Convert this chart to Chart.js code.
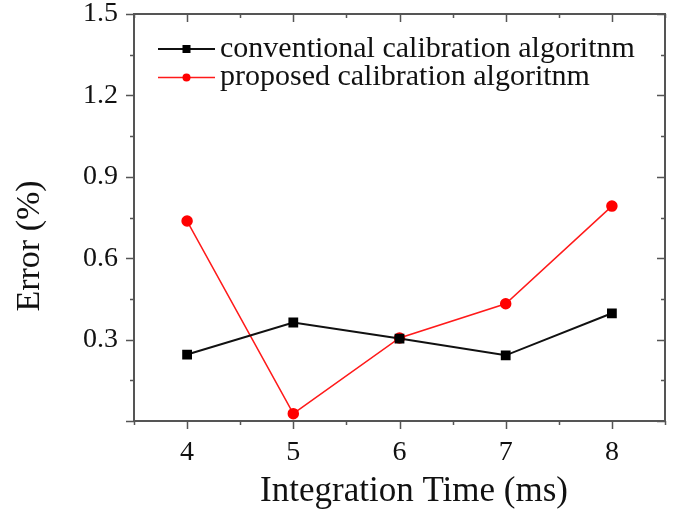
<!DOCTYPE html>
<html>
<head>
<meta charset="utf-8">
<script src="https://cdn.jsdelivr.net/npm/chart.js@4/dist/chart.umd.min.js"></script>
<style>
  html, body { margin: 0; padding: 0; background: #fff; }
  #wrap { width: 676px; height: 517px; }
</style>
</head>
<body>
<div id="wrap"><canvas id="chart"></canvas></div>
<script>
// ─── Data ─────────────────────────────────────────────────────────────────────
const integrationTimes = [4, 5, 6, 7, 8];
const conventional = [0.245, 0.363, 0.304, 0.242, 0.397];
const proposed = [0.737, 0.027, 0.306, 0.432, 0.792];
const yTickLabels = [0.3, 0.6, 0.9, 1.2, 1.5];
const xTickLabels = [4, 5, 6, 7, 8];

const SERIF = '"Liberation Serif", "DejaVu Serif", serif';
const AXIS_COLOR = '#555';

// ─── Frame, ticks, titles and legend ──────────────────────────────────────────
const framePlugin = {
  id: 'frame',
  afterDraw(chart) {
    const { ctx, chartArea: a, scales: { x, y } } = chart;
    ctx.save();
    ctx.strokeStyle = AXIS_COLOR;
    ctx.lineWidth = 2;
    ctx.strokeRect(a.left, a.top, a.right - a.left, a.bottom - a.top);

    // x ticks: major every 1, minor every 0.5
    ctx.lineWidth = 1.5;
    for (let v = x.min; v <= x.max + 1e-9; v += 0.5) {
      const px = Math.round(x.getPixelForValue(v)) + 0.5;
      const major = Math.abs(v - Math.round(v)) < 1e-9;
      const len = major ? 8 : 4;
      ctx.beginPath();
      ctx.moveTo(px, a.bottom); ctx.lineTo(px, a.bottom + len);
      ctx.moveTo(px, a.top); ctx.lineTo(px, a.top + len);
      ctx.stroke();
    }
    // y ticks: major every 0.3, minor every 0.15
    for (let i = 0; i <= 10; i++) {
      const v = i * 0.15;
      const py = Math.round(y.getPixelForValue(v)) + 0.5;
      const len = i % 2 === 0 ? 8 : 4;
      ctx.beginPath();
      ctx.moveTo(a.left, py); ctx.lineTo(a.left - len, py);
      ctx.moveTo(a.right, py); ctx.lineTo(a.right - len, py);
      ctx.stroke();
    }

    // tick labels
    ctx.fillStyle = '#111';
    ctx.font = `28px ${SERIF}`;
    ctx.textAlign = 'right';
    ctx.textBaseline = 'middle';
    yTickLabels.forEach(v => ctx.fillText(v.toFixed(1), a.left - 16, y.getPixelForValue(v)));
    ctx.textAlign = 'center';
    ctx.textBaseline = 'top';
    xTickLabels.forEach(v => ctx.fillText(String(v), x.getPixelForValue(v), a.bottom + 18));

    // axis titles
    ctx.font = `35px ${SERIF}`;
    ctx.textBaseline = 'middle';
    ctx.fillText('Integration Time (ms)', 414, 492);
    ctx.font = `34px ${SERIF}`;
    ctx.save();
    ctx.translate(30, 246);
    ctx.rotate(-Math.PI / 2);
    ctx.fillText('Error (%)', 0, 0);
    ctx.restore();

    // legend: line + marker + label
    ctx.font = `30px ${SERIF}`;
    ctx.textAlign = 'left';
    chart.data.datasets.forEach((ds, i) => {
      const ly = 49 + i * 28.5;
      const lx0 = 158, lx1 = 215, mx = (lx0 + lx1) / 2;
      ctx.strokeStyle = ds.borderColor;
      ctx.lineWidth = ds.borderWidth;
      ctx.beginPath(); ctx.moveTo(lx0, ly); ctx.lineTo(lx1, ly); ctx.stroke();
      ctx.fillStyle = ds.pointBackgroundColor;
      if (ds.pointStyle === 'rect') {
        ctx.fillRect(mx - 4, ly - 4, 8, 8);
      } else {
        ctx.beginPath(); ctx.arc(mx, ly, 4, 0, Math.PI * 2); ctx.fill();
      }
      ctx.fillStyle = '#111';
      ctx.fillText(ds.label, 220, ly);
    });
    ctx.restore();
  }
};

// ─── Chart ────────────────────────────────────────────────────────────────────
const ctx = document.getElementById('chart').getContext('2d');
new Chart(ctx, {
  type: 'line',
  data: {
    datasets: [
      {
        label: 'conventional calibration algoritnm',
        data: integrationTimes.map((t, i) => ({ x: t, y: conventional[i] })),
        borderColor: '#111',
        backgroundColor: '#000',
        pointBackgroundColor: '#000',
        pointBorderColor: '#000',
        borderWidth: 2,
        pointStyle: 'rect',
        pointRadius: 5.5,
        tension: 0,
      },
      {
        label: 'proposed calibration algoritnm',
        data: integrationTimes.map((t, i) => ({ x: t, y: proposed[i] })),
        borderColor: '#ff1a1a',
        backgroundColor: '#ff0000',
        pointBackgroundColor: '#ff0000',
        pointBorderColor: '#ff0000',
        borderWidth: 1.5,
        pointStyle: 'circle',
        pointRadius: 5,
        tension: 0,
      },
    ],
  },
  options: {
    responsive: true, maintainAspectRatio: false, animation: false,
    layout: { padding: { top: 14, right: 11, left: 0, bottom: 0 } },
    plugins: { legend: { display: false }, tooltip: { enabled: false } },
    scales: {
      x: {
        type: 'linear', min: 3.5, max: 8.5,
        grid: { display: false }, border: { display: false },
        ticks: { display: false },
        afterFit(scale) { scale.height = 96; },
      },
      y: {
        min: 0, max: 1.5,
        grid: { display: false }, border: { display: false },
        ticks: { display: false },
        afterFit(scale) { scale.width = 134; },
      },
    },
  },
  plugins: [framePlugin],
});
</script>
</body>
</html>
